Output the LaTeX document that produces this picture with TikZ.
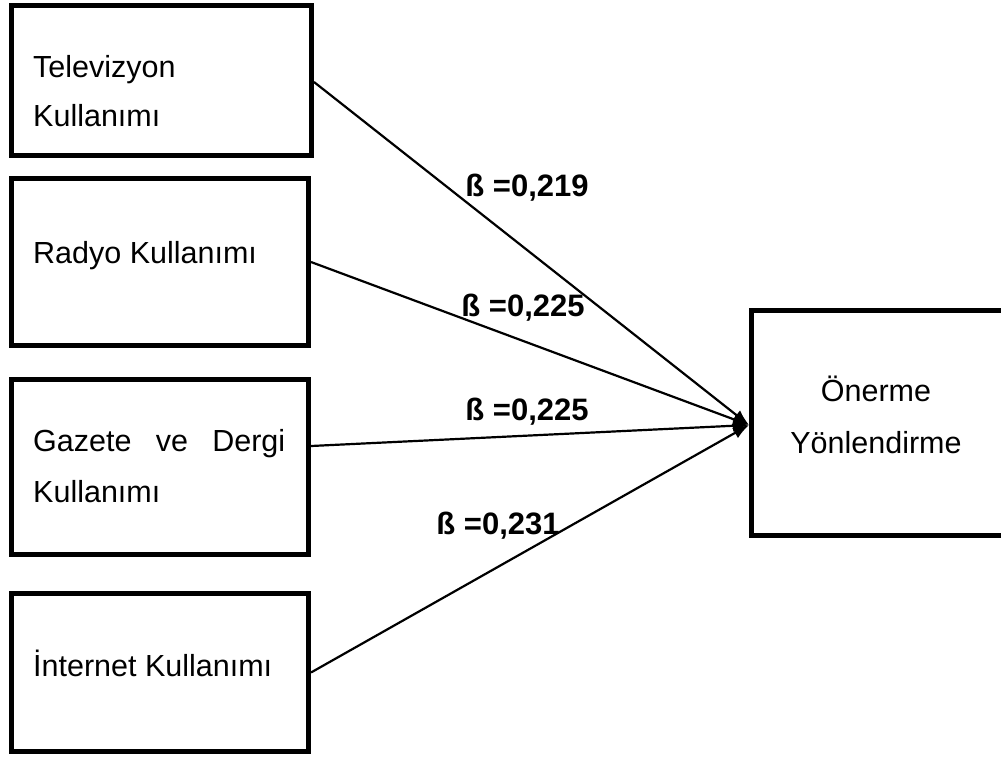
\documentclass[tikz,border=0pt]{standalone}
\usepackage{fontspec}
\setmainfont{Liberation Sans}
\usetikzlibrary{arrows.meta}

\tikzset{
  box/.style={draw=black, line width=4.8pt, fill=white, inner sep=0pt, anchor=north west},
  boxtext/.style={inner sep=0pt, anchor=base west, font=\fontsize{30.5}{36}\selectfont},
  midtext/.style={inner sep=0pt, anchor=base, font=\fontsize{30.5}{36}\selectfont},
  coef/.style={inner sep=0pt, anchor=base, font=\fontsize{31}{36}\selectfont\bfseries},
  link/.style={draw=black, line width=2.2pt, -{Latex[length=16pt,width=12pt]}}
}

\begin{document}
\begin{tikzpicture}[x=1pt, y=-1pt]
  \useasboundingbox (0,0) rectangle (1001,756);
  \fill[white] (0,0) rectangle (1001,756);
  \clip (0,0) rectangle (1001,756);

  % predictor boxes
  \node[box, minimum width=300.2pt, minimum height=150.2pt] (tv) at (9,3) {};
  \node[box, minimum width=297.2pt, minimum height=167.2pt] (radio) at (9,176) {};
  \node[box, minimum width=297.2pt, minimum height=175.2pt] (press) at (9,377) {};
  \node[box, minimum width=297.2pt, minimum height=158.2pt] (web) at (9,591) {};

  % outcome box (its right side runs past the page edge)
  \node[box, minimum width=256pt, minimum height=225.2pt] (out) at (749,308) {};

  % box texts
  \node[boxtext] (tv1) at (33,77) {Televizyon};
  \node[boxtext] (tv2) at (33,126.5) {Kullanımı};
  \node[boxtext] (radio1) at (33,263) {Radyo Kullanımı};
  \node[boxtext] (press1) at (33,451.5) {\makebox[252pt][l]{Gazete\hfill ve\hfill Dergi}};
  \node[boxtext] (press2) at (33,502.5) {Kullanımı};
  \node[boxtext] (web1) at (33,676) {İnternet Kullanımı};
  \node[midtext] (out1) at (876,401.5) {Önerme};
  \node[midtext] (out2) at (876,453.5) {Yönlendirme};

  % paths with standardized coefficients
  \coordinate (tip) at ([yshift=-2pt]out.west);
  \draw[link] ([yshift=-1.5pt]tv.east) -- (tip);
  \draw[link] (radio.east) -- (tip);
  \draw[link] ([yshift=21pt]press.east) -- (tip);
  \draw[link] (web.east) -- (tip);

  \node[coef] (c1) at (527,196) {ß =0,219};
  \node[coef] (c2) at (523,316.5) {ß =0,225};
  \node[coef] (c3) at (527,420.5) {ß =0,225};
  \node[coef] (c4) at (498,534) {ß =0,231};
\end{tikzpicture}
\end{document}
